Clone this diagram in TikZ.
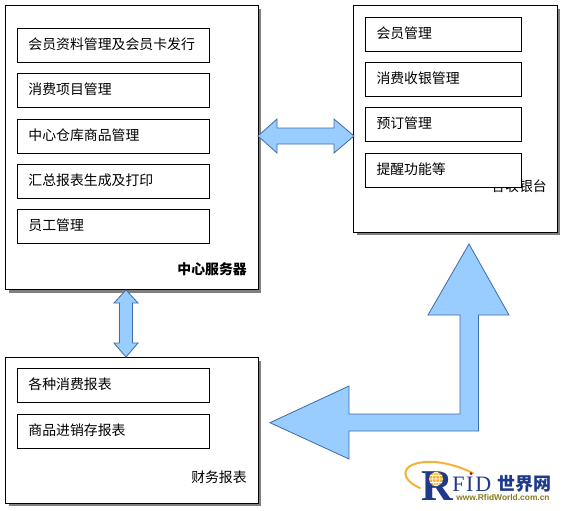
\documentclass[tikz,border=0pt]{standalone}
\usepackage{fontspec}
\setmainfont{Liberation Serif}
\newfontfamily\cjk{Noto Sans CJK SC}
\newfontfamily\lsans{Liberation Sans}
\usetikzlibrary{calc,shadows}
\definecolor{arrowfill}{HTML}{99CCFF}
\definecolor{arrowline}{HTML}{3F6CA8}
\definecolor{navyR}{HTML}{1F3A8A}
\definecolor{logoorange}{HTML}{F5B335}
\definecolor{logoolive}{HTML}{8A7A1E}
\tikzset{
  x=0.75pt,y=-0.75pt,
  panel/.style={draw=black,line width=0.7pt,fill=white,inner sep=0pt,
    drop shadow={shadow xshift=2.4pt,shadow yshift=-2.4pt,fill=black!50,opacity=1}},
  itembox/.style={draw=black,line width=0.7pt,fill=white,inner xsep=8.25pt,inner ysep=0pt,align=left,font=\cjk\fontsize{10.4pt}{11pt}\selectfont},
  blockarrow/.style={draw=arrowline,fill=arrowfill,line width=0.6pt,line join=miter},
  caption/.style={inner sep=0pt,anchor=east,font=\cjk\fontsize{10.4pt}{11pt}\selectfont}
}
\newcommand{\panelbox}[5]{%
  \pgfmathsetmacro{\myw}{(#4-#2)*0.75}\pgfmathsetmacro{\myh}{(#5-#3)*0.75}%
  \node[panel,minimum width=\myw pt,minimum height=\myh pt] (#1) at ({(#2+#4)/2},{(#3+#5)/2}) {};}
\newcommand{\itm}[6]{%
  \pgfmathsetmacro{\myw}{(#4-#2)*0.75}\pgfmathsetmacro{\myh}{(#5-#3)*0.75}\pgfmathsetmacro{\myt}{\myw-16.5}%
  \node[itembox,minimum width=\myw pt,minimum height=\myh pt,text width=\myt pt] (#1) at ({(#2+#4)/2},{(#3+#5)/2}) {\raisebox{2.2pt}{#6}};}
\begin{document}
\begin{tikzpicture}
\useasboundingbox[fill=white] (0,0) rectangle (562,511);
% panels
\panelbox{server}{5.5}{5.5}{258}{289.5}
\panelbox{desk}{353.5}{5.5}{557}{232}
\panelbox{report}{5.5}{357.5}{258}{503}
% captions
\node[caption,font=\cjk\bfseries\fontsize{10.4pt}{11pt}\selectfont] (servercap) at (247,269) {中心服务器};
\node[caption] (deskcap) at (547,186.5) {各收银台};
\node[caption] (reportcap) at (247,477) {财务报表};
% items
\itm{s1}{17.5}{28}{209.5}{62.5}{会员资料管理及会员卡发行}
\itm{s2}{17.5}{73}{209.5}{107}{消费项目管理}
\itm{s3}{17.5}{119}{209.5}{153}{中心仓库商品管理}
\itm{s4}{17.5}{164}{209.5}{198}{汇总报表生成及打印}
\itm{s5}{17.5}{209}{209.5}{243}{员工管理}
\itm{d1}{365.5}{17}{521}{51}{会员管理}
\itm{d2}{365.5}{62}{521}{96.5}{消费收银管理}
\itm{d3}{365.5}{107}{521}{141.5}{预订管理}
\itm{d4}{365.5}{153}{521}{187}{提醒功能等}
\itm{r1}{17.5}{368}{209.5}{402}{各种消费报表}
\itm{r2}{17.5}{414}{209.5}{448}{商品进销存报表}
% double arrow server -- desk
\coordinate (hl) at (258,136);
\coordinate (hr) at (354,136);
\draw[blockarrow] (hl) -- ($(hl)+(19,-17)$) -- ($(hl)+(19,-8)$) -- ($(hr)+(-20,-8)$) -- ($(hr)+(-20,-17)$) -- (hr)
  -- ($(hr)+(-20,17)$) -- ($(hr)+(-20,8)$) -- ($(hl)+(19,8)$) -- ($(hl)+(19,17)$) -- cycle;
% double arrow server -- report
\coordinate (vt) at (126,290);
\coordinate (vb) at (vt |- report.north);
\draw[blockarrow] (vt) -- ($(vt)+(12,13)$) -- ($(vt)+(6.5,13)$) -- ($(vb)+(6.5,-14)$) -- ($(vb)+(12,-14)$) -- (vb)
  -- ($(vb)+(-12,-14)$) -- ($(vb)+(-6.5,-14)$) -- ($(vt)+(-6.5,13)$) -- ($(vt)+(-12,13)$) -- cycle;
% bent arrow desk -- report
\coordinate (bt) at (469,244);
\coordinate (bl) at (270,422.7);
\draw[blockarrow] (bt) -- (509,315) -- (478.5,315) -- (478.5,431) -- (349,431) -- (349,459) -- (bl)
  -- (349,386) -- (349,414) -- (460,414) -- (460,315) -- (428,315) -- cycle;
% logo
\draw[logoorange,line width=1.5pt,line cap=round] (473,473) .. controls (450,462) and (425,458) .. (410,466) .. controls (402,471) and (404,481) .. (420,488);
\fill[red!70!black] (471,473.5) circle (1.5);
\node[inner sep=0pt,anchor=base west,text=navyR,font=\bfseries\fontsize{33pt}{33pt}\selectfont] (logoR) at (421,500) {R};
\fill[logoorange] (436,479) circle (7);
\draw[white,line width=0.4pt] (429,479) -- (443,479) (436,472) -- (436,486) (436,479) ellipse (3.5 and 7) (430,475.5) -- (442,475.5) (430,482.5) -- (442,482.5);
\node[inner sep=0pt,anchor=base west,text=navyR,font=\addfontfeatures{LetterSpace=8}\fontsize{16.5pt}{16pt}\selectfont] (logoF) at (452,491) {FID};
\node[inner sep=0pt,anchor=base west,text=navyR,font=\cjk\bfseries\fontsize{13.5pt}{14pt}\selectfont] (logoW) at (497,490.5) {世界网};
\node[inner sep=0pt,anchor=base west,text=logoolive,font=\lsans\bfseries\fontsize{6.3pt}{7pt}\selectfont] (logoU) at (456,500.5) {www.RfidWorld.com.cn};
\end{tikzpicture}
\end{document}
